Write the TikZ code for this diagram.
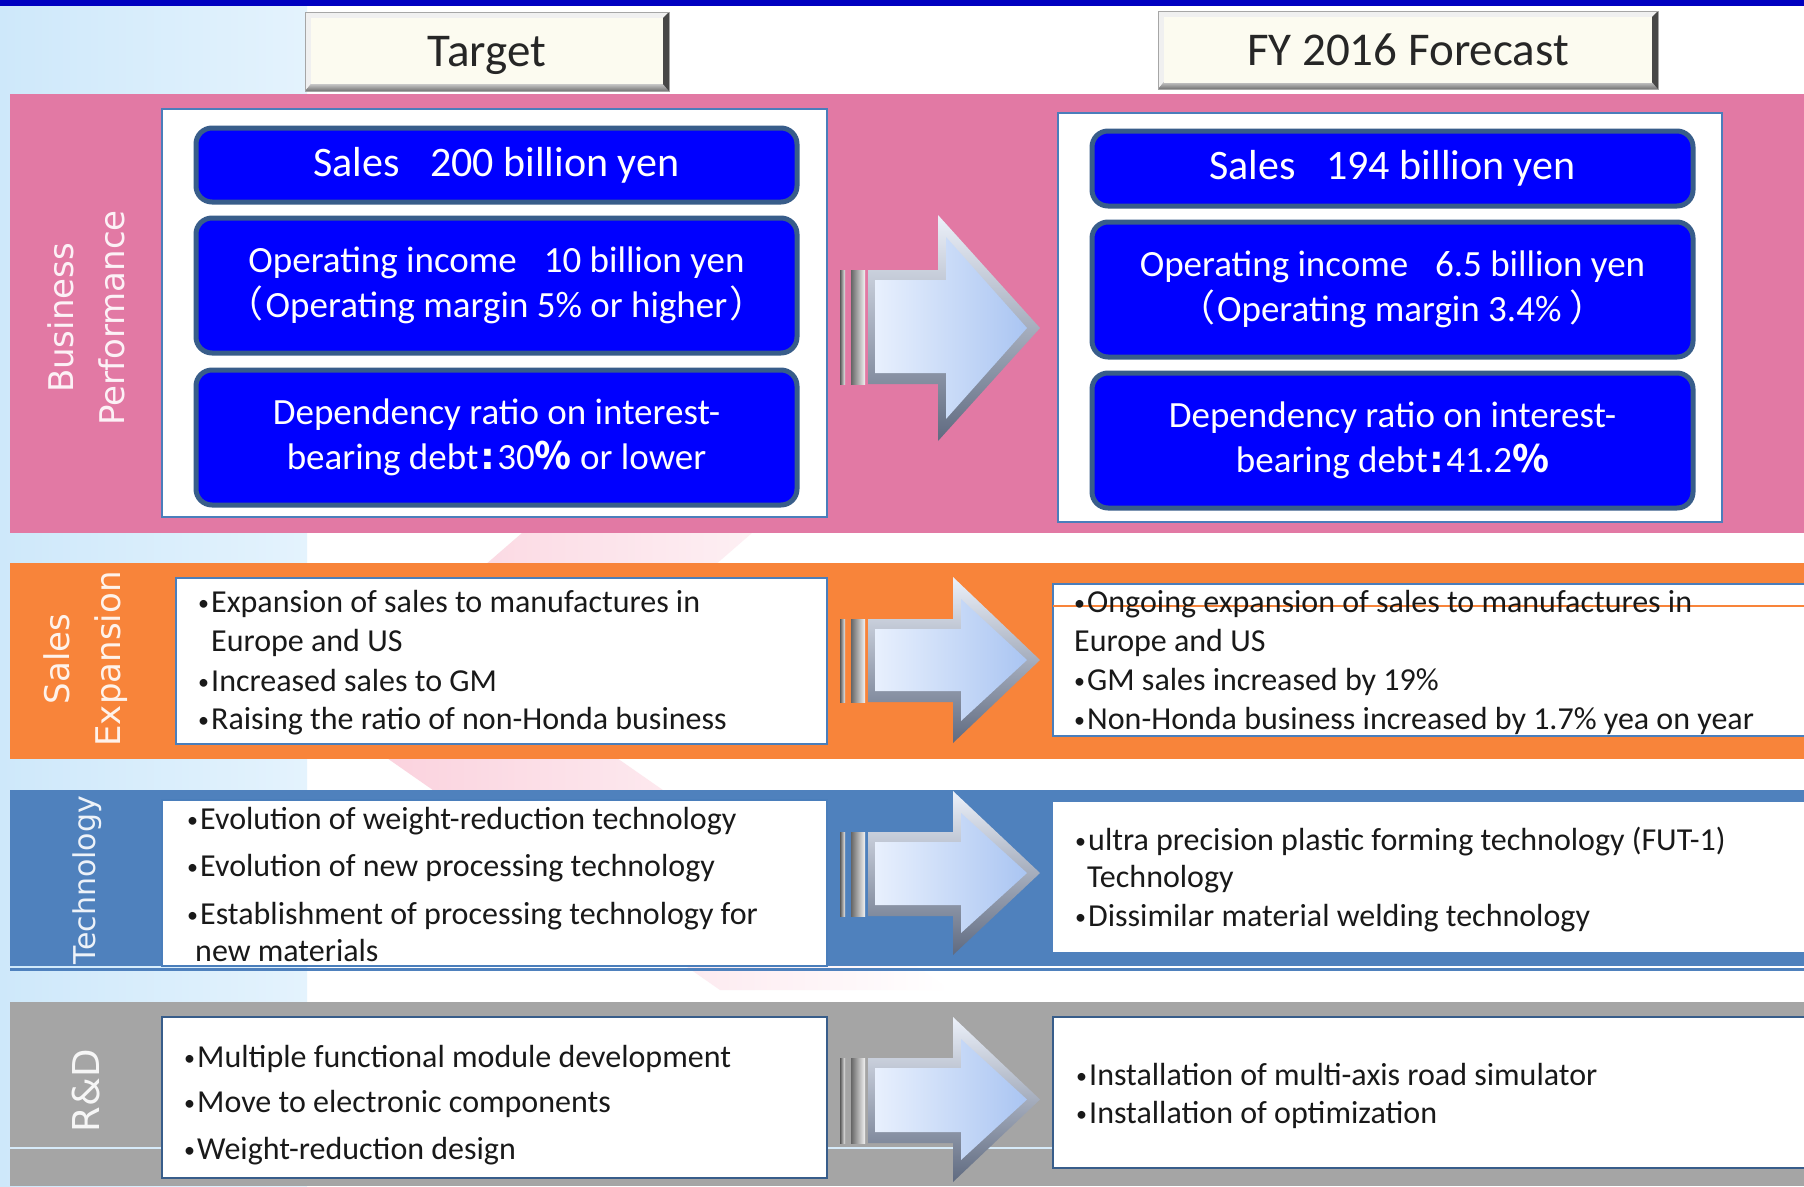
\documentclass[tikz,border=0pt]{standalone}
\usepackage{fontspec}
\setmainfont{Carlito}
\newfontfamily\cjkf{Noto Sans CJK JP}
\newfontfamily\vlabf{DejaVu Sans}
\definecolor{topblue}{RGB}{0,0,192}
\definecolor{lbL}{RGB}{206,232,250}
\definecolor{lbR}{RGB}{228,243,253}
\definecolor{pinkband}{RGB}{226,121,164}
\definecolor{orangeband}{RGB}{248,132,58}
\definecolor{techband}{RGB}{79,129,189}
\definecolor{grayband}{RGB}{165,165,165}
\definecolor{bluefill}{RGB}{0,0,255}
\definecolor{blueedge}{RGB}{56,93,138}
\definecolor{panedge}{RGB}{74,126,187}
\definecolor{cream}{RGB}{252,251,240}
\definecolor{chevpink}{RGB}{250,205,218}
\definecolor{arrL}{RGB}{232,240,253}
\definecolor{arrR}{RGB}{170,197,242}
\definecolor{arrTop}{RGB}{236,241,250}
\definecolor{arrBot}{RGB}{95,106,128}
\definecolor{hdrtext}{RGB}{38,38,38}
\definecolor{bodytext}{RGB}{25,25,25}
\definecolor{lightline}{RGB}{215,235,250}

\newcommand{\bul}{\makebox[13pt][l]{\fontsize{22}{22}\selectfont\raisebox{2pt}{•}}}
\newcommand{\fatarrow}[5]{%
  \shade[left color=black!65, right color=black!8] (840,#1) rectangle (845,#2);
  \shade[left color=black!60, right color=black!5] (851,#1) rectangle (865,#2);
  \shade[top color=arrTop, bottom color=arrBot] (868,#1) -- (#5,#1) -- (#5,#3) -- (1040,{(#3+#4)/2}) -- (#5,#4) -- (#5,#2) -- (868,#2) -- cycle;
  \shade[left color=arrL, right color=arrR] (875,{#1+10}) -- ({#5+8},{#1+10}) -- ({#5+8},{#3+22}) -- (1027,{(#3+#4)/2}) -- ({#5+8},{#4-22}) -- ({#5+8},{#2-11}) -- (875,{#2-11}) -- cycle;
}
\newcommand{\hdrbevel}[4]{%
  \fill[black!45] (#1,#2) rectangle (#3,#4);
  \fill[black!6] (#1,#2) -- (#3,#2) -- ({#3-6},{#2+6}) -- ({#1+6},{#2+6}) -- ({#1+6},{#4-7}) -- (#1,#4) -- cycle;
  \shade[top color=black!22, bottom color=black!55] (#1,#4) -- ({#1+6},{#4-7}) -- ({#3-6},{#4-7}) -- (#3,#4) -- cycle;
  \fill[black!72] (#3,#2) -- ({#3-6},{#2+6}) -- ({#3-6},{#4-7}) -- (#3,#4) -- cycle;
  \draw[black!35, line width=1pt] (#1,#2) rectangle (#3,#4);
}

\tikzset{
  panel/.style={draw=panedge, line width=1.5pt, fill=white, inner sep=0pt, outer sep=0pt, anchor=north west},
  bbox/.style={draw=blueedge, line width=5pt, fill=bluefill, rounded corners=16pt, inner sep=0pt,
    anchor=north west, text=white, align=center, font=\fontsize{37}{45}\selectfont},
  hdr/.style={inner sep=0pt, text=hdrtext, font=\fontsize{47}{50}\selectfont, anchor=base},
  hdrbox/.style={fill=cream, inner sep=0pt},
  vlab/.style={rotate=90, align=center, text=white, text opacity=0.9, inner sep=0pt,
    font=\vlabf\fontsize{34}{51}\selectfont},
  btext/.style={anchor=base west, inner sep=0pt, text=bodytext, font=\fontsize{32}{39}\selectfont}
}

\begin{document}
\begin{tikzpicture}[x=1pt,y=-1pt]
\useasboundingbox (0,0) rectangle (1804,1186);
% background
\fill[white] (0,0) rectangle (1804,1186);
\shade[left color=lbL, right color=lbR] (0,0) rectangle (307,1186);
\shade[left color=chevpink, right color=white] (560,500) -- (790,500) -- (548,710) -- (950,990) -- (720,990) -- (318,710) -- cycle;
\fill[topblue] (0,0) rectangle (1804,6);

% headers
\hdrbevel{305}{12}{669}{91}
\node[hdrbox, minimum width=352pt, minimum height=66pt] (tgtbox) at (487,51) {};
\node[hdr] (tgt) at (487,66) {Target};
\hdrbevel{1158}{11}{1658}{89}
\node[hdrbox, minimum width=488pt, minimum height=66pt] (fybox) at (1408,50) {};
\node[hdr] (fy) at (1408,65) {FY 2016 Forecast};

% bands
\fill[pinkband] (10,94) rectangle (1804,533);
\fill[orangeband] (10,563) rectangle (1804,759);
\fill[techband] (10,790) rectangle (1804,966);
\draw[techband, line width=2.5pt] (10,969.5) -- (1804,969.5);
\fill[grayband] (10,1002) rectangle (1804,1186);
\draw[lightline, line width=1.5pt] (10,1148) -- (1053,1148);

% row labels
\node[vlab] (lbBP) at (86,318) {Business\\Performance};
\node[vlab] (lbSE) at (86,659) {Sales\\Expansion};
\node[vlab, font=\vlabf\fontsize{30}{36}\selectfont] (lbTE) at (87,880) {Technology};
\node[vlab, font=\vlabf\fontsize{37}{44}\selectfont] (lbRD) at (86,1091) {R\&D};

% business performance panels
\node[panel, minimum width=665pt, minimum height=408pt] (pL) at (162,109) {};
\node[panel, minimum width=664pt, minimum height=409pt] (pR) at (1058,113) {};
\node[bbox, minimum width=601pt, minimum height=74pt, font=\fontsize{42}{45}\selectfont] (bL1) at (193.5,125.5) {Sales\hspace{0.5em} 200 billion yen};
\node[bbox, minimum width=601pt, minimum height=135pt] (bL2) at (193.5,215.5) {Operating income\hspace{0.5em} 10 billion yen\\{\cjkf （}\hspace{2pt}Operating margin 5\% or higher\hspace{2pt}{\cjkf ）}};
\node[bbox, minimum width=601pt, minimum height=135pt] (bL3) at (193.5,367.5) {Dependency ratio on interest-\\bearing debt\hspace{2pt}{\vlabf\bfseries :}\hspace{2pt}30{\cjkf\bfseries ％} or lower};
\node[bbox, minimum width=601pt, minimum height=75pt, font=\fontsize{42}{45}\selectfont] (bR1) at (1089.5,128.5) {Sales\hspace{0.5em} 194 billion yen};
\node[bbox, minimum width=601pt, minimum height=135pt] (bR2) at (1089.5,219.5) {Operating income\hspace{0.5em} 6.5 billion yen\\{\cjkf （}\hspace{2pt}Operating margin 3.4\% {\cjkf ）}};
\node[bbox, minimum width=601pt, minimum height=135pt] (bR3) at (1089.5,370.5) {Dependency ratio on interest-\\bearing debt\hspace{2pt}{\vlabf\bfseries :}\hspace{2pt}41.2{\cjkf\bfseries ％}};

% sales expansion
\node[panel, minimum width=651pt, minimum height=166pt] (oL) at (176,578) {};
\node[panel, minimum width=770pt, minimum height=152pt] (oR) at (1053,584) {};
\draw[orangeband, line width=1.5pt] (1053,606) -- (1804,606);
\node[btext] (oL1) at (198,612) {\bul Expansion of sales to manufactures in};
\node[btext] (oL2) at (211,651) {Europe and US};
\node[btext] (oL3) at (198,691) {\bul Increased sales to GM};
\node[btext] (oL4) at (198,729) {\bul Raising the ratio of non-Honda business};
\node[btext] (oR1) at (1074,612) {\bul Ongoing expansion of sales to manufactures in};
\node[btext] (oR2) at (1074,651) {Europe and US};
\node[btext] (oR3) at (1074,690) {\bul GM sales increased by 19\%};
\node[btext] (oR4) at (1074,729) {\bul Non-Honda business increased by 1.7\% yea on year};

% technology
\node[panel, minimum width=665pt, minimum height=166pt] (tL) at (162,800) {};
\node[panel, draw=none, minimum width=770pt, minimum height=150pt] (tR) at (1053,802) {};
\node[btext] (tL1) at (187,829) {\bul Evolution of weight-reduction technology};
\node[btext] (tL2) at (187,876) {\bul Evolution of new processing technology};
\node[btext] (tL3) at (187,924) {\bul Establishment of processing technology for};
\node[btext] (tL4) at (195,961) {new materials};
\node[btext] (tR1) at (1075,850) {\bul ultra precision plastic forming technology (FUT-1)};
\node[btext] (tR2) at (1087,887) {Technology};
\node[btext] (tR3) at (1075,926) {\bul Dissimilar material welding technology};

% R&D
\node[panel, draw=blueedge, minimum width=665pt, minimum height=161pt] (rL) at (162,1017) {};
\node[panel, draw=blueedge, minimum width=770pt, minimum height=151pt] (rR) at (1053,1017) {};
\node[btext] (rL1) at (184,1067) {\bul Multiple functional module development};
\node[btext] (rL2) at (184,1112) {\bul Move to electronic components};
\node[btext] (rL3) at (184,1159) {\bul Weight-reduction design};
\node[btext] (rR1) at (1076,1085) {\bul Installation of multi-axis road simulator};
\node[btext] (rR2) at (1076,1123) {\bul Installation of optimization};

% arrows
\fatarrow{270}{384}{215}{441}{938}
\fatarrow{619}{702}{577}{743}{953}
\fatarrow{832}{916}{791}{955}{953}
\fatarrow{1058}{1143}{1017}{1182}{953}
\end{tikzpicture}
\end{document}
